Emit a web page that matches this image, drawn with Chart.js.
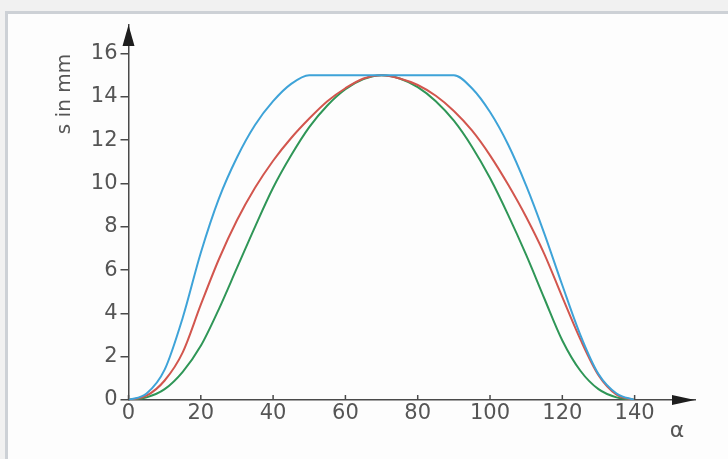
<!DOCTYPE html>
<html>
<head>
<meta charset="utf-8">
<script src="https://cdn.jsdelivr.net/npm/chart.js@4.4.1/dist/chart.umd.min.js"></script>
<style>
  html, body { margin: 0; padding: 0; width: 728px; height: 459px; overflow: hidden; background: #f1f1f1; }
  #frame { position: absolute; left: 5px; top: 11px; width: 760px; height: 480px; border: 3px solid #cdd1d6; background: #fdfdfd; }
  #wrap { position: absolute; left: 0; top: 0; width: 728px; height: 459px; }
</style>
</head>
<body>
<div id="frame"></div>
<div id="wrap"><canvas id="c" width="728" height="459"></canvas></div>
<script>
// ---- data ----
const alphaValues = [0, 5, 10, 15, 20, 25, 30, 35, 40, 45, 50, 55, 60, 65, 70, 75, 80, 85, 90, 95, 100, 105, 110, 115, 120, 125, 130, 135, 140];
const blueS  = [0, 0.3, 1.4, 3.8, 6.8, 9.3, 11.2, 12.7, 13.8, 14.6, 15, 15, 15, 15, 15, 15, 15, 15, 15, 14.4, 13.3, 11.8, 9.9, 7.7, 5.3, 3.0, 1.2, 0.3, 0];
const redS   = [0, 0.2, 0.9, 2.2, 4.4, 6.5, 8.3, 9.8, 11.05, 12.1, 13.0, 13.8, 14.4, 14.85, 15, 14.85, 14.55, 14.05, 13.35, 12.45, 11.3, 9.95, 8.45, 6.75, 4.75, 2.8, 1.15, 0.25, 0];
const greenS = [0, 0.12, 0.5, 1.3, 2.5, 4.2, 6.1, 8.0, 9.8, 11.3, 12.6, 13.6, 14.35, 14.82, 15, 14.85, 14.45, 13.8, 12.9, 11.7, 10.25, 8.55, 6.7, 4.7, 2.75, 1.35, 0.5, 0.12, 0];
const xTicks = [0, 20, 40, 60, 80, 100, 120, 140];
const yTicks = [0, 2, 4, 6, 8, 10, 12, 14, 16];
const yTitle = 's in mm';
const xTitle = 'α';

const seriesColors = { blue: '#3ea3d8', red: '#d2564e', green: '#2f9657' };
const axisColor = '#4a4a4a';
const textColor = '#555555';
const tickFont = { family: 'DejaVu Sans', size: 21 };

function pts(arr) { return alphaValues.map((a, i) => ({ x: a, y: arr[i] })); }

const decor = {
  id: 'decor',
  afterDraw(chart) {
    const ctx = chart.ctx;
    const ca = chart.chartArea;
    const xs = chart.scales.x;
    ctx.save();
    // x tick marks pointing up
    ctx.strokeStyle = axisColor;
    ctx.lineWidth = 1.5;
    xTicks.forEach(v => {
      const px = xs.getPixelForValue(v);
      ctx.beginPath();
      ctx.moveTo(px, ca.bottom);
      ctx.lineTo(px, ca.bottom - 5);
      ctx.stroke();
    });
    // arrow heads
    ctx.fillStyle = '#1e1e1e';
    ctx.beginPath();
    ctx.moveTo(ca.right, ca.bottom);
    ctx.lineTo(ca.right - 23, ca.bottom - 5);
    ctx.lineTo(ca.right - 23, ca.bottom + 5);
    ctx.closePath();
    ctx.fill();
    ctx.beginPath();
    ctx.moveTo(ca.left, ca.top);
    ctx.lineTo(ca.left - 6, ca.top + 21);
    ctx.lineTo(ca.left + 6, ca.top + 21);
    ctx.closePath();
    ctx.fill();
    // titles
    ctx.fillStyle = textColor;
    ctx.font = '20px "DejaVu Sans"';
    ctx.textAlign = 'center';
    ctx.textBaseline = 'middle';
    ctx.save();
    ctx.translate(65, 94);
    ctx.rotate(-Math.PI / 2);
    ctx.fillText(yTitle, 0, 0);
    ctx.restore();
    ctx.font = '22px "DejaVu Sans"';
    ctx.fillText(xTitle, 677, 431);
    ctx.restore();
  }
};

new Chart(document.getElementById('c'), {
  type: 'line',
  data: {
    datasets: [
      { label: 'blue', data: pts(blueS), borderColor: seriesColors.blue },
      { label: 'red', data: pts(redS), borderColor: seriesColors.red },
      { label: 'green', data: pts(greenS), borderColor: seriesColors.green }
    ]
  },
  options: {
    responsive: false,
    animation: false,
    devicePixelRatio: 1,
    layout: { padding: { left: 0, right: 33, top: 25, bottom: 0 } },
    elements: {
      line: { borderWidth: 2, cubicInterpolationMode: 'monotone', fill: false },
      point: { radius: 0 }
    },
    plugins: { legend: { display: false }, tooltip: { enabled: false } },
    scales: {
      x: {
        type: 'linear',
        min: 0,
        max: 156.7,
        afterBuildTicks(scale) { scale.ticks = xTicks.map(v => ({ value: v })); },
        afterFit(scale) { scale.height = 59; },
        grid: { display: true, drawOnChartArea: false, drawTicks: false },
        border: { display: true, color: axisColor, width: 1.5 },
        ticks: { color: textColor, font: tickFont, padding: 1, maxRotation: 0, autoSkip: false }
      },
      y: {
        type: 'linear',
        min: 0,
        max: 17.32,
        afterBuildTicks(scale) { scale.ticks = yTicks.map(v => ({ value: v })); },
        afterFit(scale) { scale.width = 128.5; },
        grid: { display: true, drawOnChartArea: false, drawTicks: true, tickLength: 8, color: axisColor, lineWidth: 1.5 },
        border: { display: true, color: axisColor, width: 1.5 },
        ticks: { color: textColor, font: tickFont, padding: 3, autoSkip: false }
      }
    }
  },
  plugins: [decor]
});
</script>
</body>
</html>
